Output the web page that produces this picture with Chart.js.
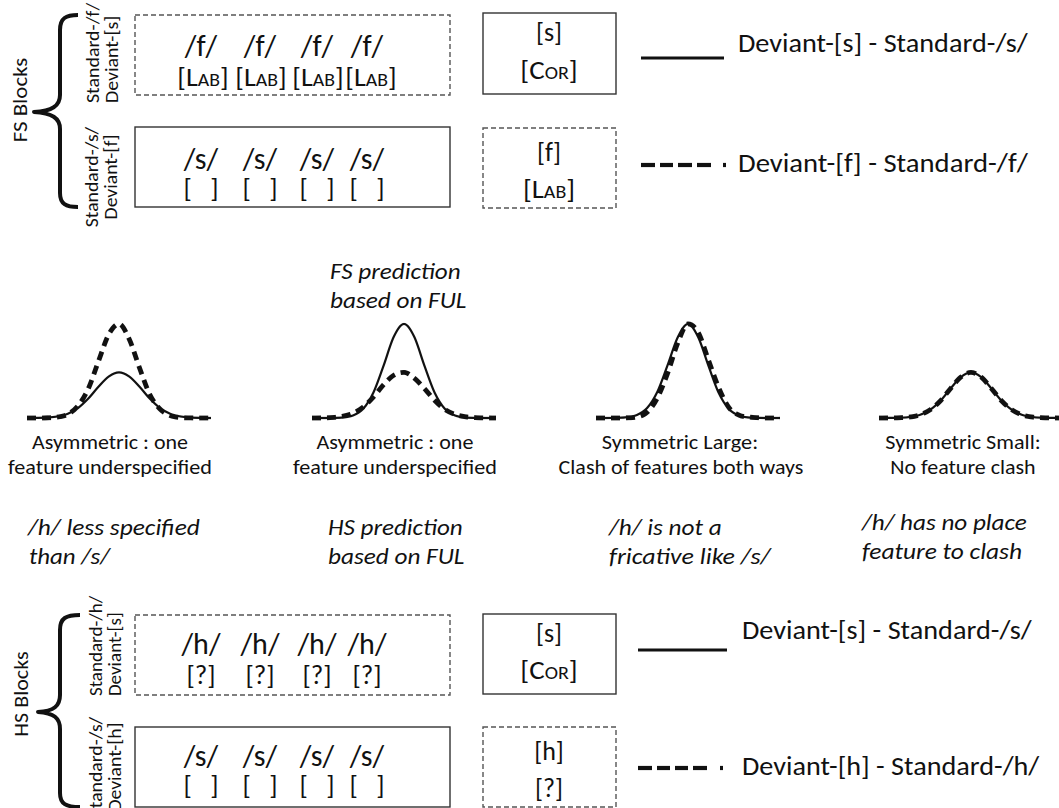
<!DOCTYPE html>
<html><head><meta charset="utf-8">
<script src="https://cdn.jsdelivr.net/npm/chart.js@4.4.1/dist/chart.umd.min.js"></script>
<style>
html,body{margin:0;padding:0;background:#fff;}
body{width:1059px;height:808px;overflow:hidden;position:relative;font-family:Carlito,Calibri,Lato,sans-serif;color:#111;}
.t{position:absolute;white-space:pre;line-height:0.9;}
.i{font-style:italic;}
.sc{font-variant:small-caps;}
canvas{position:absolute;}
svg{position:absolute;left:0;top:0;}
</style></head><body>
<svg width="1059" height="808" viewBox="0 0 1059 808">
  <g fill="none" stroke="#333" stroke-width="1.4">
    <rect x="135" y="15" width="315" height="80" stroke-dasharray="5 3" stroke="#555"/>
    <rect x="135" y="127" width="315" height="80"/>
    <rect x="483" y="13" width="133" height="81"/>
    <rect x="483" y="128" width="133" height="80" stroke-dasharray="5 3" stroke="#555"/>
    <rect x="135" y="615" width="315" height="80" stroke-dasharray="5 3" stroke="#555"/>
    <rect x="135" y="727" width="315" height="80"/>
    <rect x="483" y="614" width="133" height="80"/>
    <rect x="483" y="727" width="133" height="80" stroke-dasharray="5 3" stroke="#555"/>
  </g>
  <g fill="none" stroke="#111" stroke-width="4" stroke-linejoin="round">
    <path d="M78,15 C66,15 60,18 60,30 L60,95 C60,106 52,111 34,112 C52,113 60,118 60,129 L60,193 C60,204 66,207 78,207"/>
    <path transform="translate(0,600)" d="M80,15 C66,15 60,18 60,30 L60,95 C60,106 54,111 38,112 C54,113 60,118 60,129 L60,193 C60,204 66,207 80,207"/>
  </g>
  <g stroke="#111" stroke-width="3.2">
    <line x1="641" y1="58" x2="724" y2="58"/>
    <line x1="638" y1="650" x2="727" y2="650"/>
  </g>
  <g stroke="#111" stroke-width="4.2">
    <line x1="641" y1="165" x2="655" y2="165"/><line x1="660" y1="165" x2="673" y2="165"/>
    <line x1="678" y1="165" x2="692" y2="165"/><line x1="697" y1="165" x2="711" y2="165"/>
    <line x1="723" y1="165" x2="726" y2="165"/>
    <line x1="638" y1="768" x2="652" y2="768"/><line x1="657" y1="768" x2="670" y2="768"/>
    <line x1="675" y1="768" x2="688" y2="768"/><line x1="693" y1="768" x2="707" y2="768"/>
    <line x1="720" y1="768" x2="723" y2="768"/>
  </g>
</svg>
<script>
// ---- data: curve samples (relative response, 0-100) at shared x positions ----
const xPositions = [-9,-8,-7,-6,-5,-4,-3,-2,-1,0,1,2,3,4,5,6,7,8,9];
const panelTitles = ["Asymmetric : one\nfeature underspecified","Asymmetric : one\nfeature underspecified","Symmetric Large:\nClash of features both ways","Symmetric Small:\nNo feature clash"];
const seriesNames = ["Deviant-[s] - Standard-/s/","Deviant-[f] - Standard-/f/"];
const panel1Dashed = [0,0,0.2,1,4,13,31,60,88,99,83,53,25,9.5,2.6,0.5,0.1,0,0];
const panel1Solid  = [0,0.1,0.5,1.6,4.5,10.6,20.5,33,43.7,48,43.7,33,20.5,10.6,4.5,1.6,0.5,0.1,0];
const panel2Dashed = [0,0.1,0.5,1.8,5,11.5,22,35,45,48,42,31,18.5,9,3.8,1.3,0.4,0.1,0];
const panel2Solid  = [0,0,0.1,0.5,2.6,9.6,26.6,55,85.5,99,85.5,55,26.6,9.6,2.6,0.5,0.1,0,0];
const panel3Dashed = [0,0,0,0.2,1,6,21,47,79,99,90,61,32,11,3,1,0.2,0,0];
const panel3Solid  = [0,0,0.2,0.8,3.2,10.5,27.5,55.5,85,99,85,55,26.5,9.5,2.5,0.5,0.1,0,0];
const panel4Dashed = [0,0.1,0.3,1,3.3,8.6,18,31,43,48,43,31,18,8.6,3.3,1,0.3,0.1,0];
const panel4Solid  = [0,0.1,0.3,1,3.3,8.6,18,31,43,48,43,31,18,8.6,3.3,1,0.3,0.1,0];

// ---- layout (pixels) ----
const panelCenters = [119,404,688,971];
const PANEL_HALF = 92, AREA_TOP = 323, AREA_H = 95, PAD = 6;
const panelData = [[panel1Dashed,panel1Solid],[panel2Dashed,panel2Solid],[panel3Dashed,panel3Solid],[panel4Dashed,panel4Solid]];

panelData.forEach((pair,k)=>{
  const cv = document.createElement('canvas');
  cv.width = PANEL_HALF*2 + PAD*2; cv.height = AREA_H + PAD*2;
  cv.style.left = (panelCenters[k]-PANEL_HALF-PAD)+'px';
  cv.style.top = (AREA_TOP-PAD)+'px';
  document.body.appendChild(cv);
  const pts = arr => xPositions.map((x,i)=>({x:x,y:arr[i]}));
  new Chart(cv,{
    type:'line',
    data:{datasets:[
      {label:seriesNames[1],data:pts(pair[0]),borderColor:'#111',borderWidth:4.8,borderDash:[9,6],borderCapStyle:'butt',pointRadius:0,tension:0.4,cubicInterpolationMode:'monotone',clip:false},
      {label:seriesNames[0],data:pts(pair[1]),borderColor:'#111',borderWidth:2.2,pointRadius:0,tension:0.4,cubicInterpolationMode:'monotone',clip:false}
    ]},
    options:{responsive:false,animation:false,devicePixelRatio:2,
      layout:{padding:PAD},
      plugins:{legend:{display:false},tooltip:{enabled:false},title:{display:false}},
      scales:{x:{type:'linear',min:-9,max:9,display:false},y:{min:0,max:100,display:false}}}
  });
});

// ---- text ----
function put(txt,x,y,o){
  o=o||{};
  const d=document.createElement('div');
  d.className='t'+(o.cls?' '+o.cls:'');
  d.textContent=txt;
  d.style.left=x+'px'; d.style.top=y+'px';
  d.style.fontSize=(o.size||20)+'px';
  if(o.lh) d.style.lineHeight=o.lh;
  if(o.ta) d.style.textAlign=o.ta;
  const pre = o.rot ? 'translate(-50%,-50%) rotate(-90deg)' : (o.align==='l' ? 'translateY(-50%)' : 'translate(-50%,-50%)');
  if(o.align==='l') d.style.transformOrigin='left center';
  d.style.transform = pre;
  d.dataset.pre = pre;
  if(o.w) d.dataset.w=o.w;
  document.body.appendChild(d);
}
function fit(){
  document.querySelectorAll('[data-w]').forEach(d=>{
    const m=d.offsetWidth;
    if(m>0) d.style.transform = d.dataset.pre + ' scaleX(' + ((+d.dataset.w)/m).toFixed(4) + ')';
  });
}

// side labels
put('FS Blocks',20,100,{rot:1,w:85,size:21});
put('HS Blocks',21,694,{rot:1,w:85,size:21});
put('Standard-/f/\nDeviant-[s]',102,53,{rot:1,w:100,size:18.5,lh:'1.05',ta:'left'});
put('Standard-/s/\nDeviant-[f]',101,177,{rot:1,w:100,size:18.5,lh:'1.05',ta:'center'});
put('Standard-/h/\nDeviant-[s]',105,646,{rot:1,w:100,size:18.5,lh:'1.05',ta:'left'});
put('Standard-/s/\nDeviant-[h]',105,767,{rot:1,w:100,size:18.5,lh:'1.05',ta:'center'});

// block contents
const cols=[201,260,317,367];
const labCols=[203,261,318,371];
cols.forEach((cx,i)=>{
  put('/f/',cx,45,{size:30});
  put('[Lab]',labCols[i],77,{size:27,cls:'sc',w:51});
  put('/s/',cx,158,{size:30});
  put('[   ]',cx,188,{size:27});
  put('/h/',cx,643,{size:30});
  put('[?]',cx,675,{size:27});
  put('/s/',cx,755,{size:30});
  put('[   ]',cx,785,{size:27});
});
put('[s]',549,33,{size:26});
put('[Cor]',549,71,{size:26,cls:'sc',w:58});
put('[f]',549,153,{size:26});
put('[Lab]',549,190,{size:26,cls:'sc',w:52});
put('[s]',549,634,{size:26});
put('[Cor]',549,671,{size:26,cls:'sc',w:58});
put('[h]',549,752,{size:26});
put('[?]',549,789,{size:26});

// legends
put(seriesNames[0],738,44,{align:'l',w:290,size:26});
put(seriesNames[1],738,164,{align:'l',w:290,size:26});
put('Deviant-[s] - Standard-/s/',742,631,{align:'l',w:290,size:26});
put('Deviant-[h] - Standard-/h/',742,767,{align:'l',w:297,size:26});

// panel captions
const capW=[[156,204],[157,204],[156,245],[155,145]];
panelTitles.forEach((t,k)=>{
  const parts=t.split('\n');
  put(parts[0],panelCenters[k]-(k===2?8:(k===3?8:9)),442,{w:capW[k][0],size:20});
  put(parts[1],panelCenters[k]-(k===2?7:(k===3?8:9)),467,{w:capW[k][1],size:20});
});

// italic notes
put('FS prediction',330,271,{align:'l',cls:'i',w:131,size:23});
put('based on FUL',330,300,{align:'l',cls:'i',w:136,size:23});
put('/h/ less specified',28,527,{align:'l',cls:'i',w:172,size:23});
put('than /s/',29,556,{align:'l',cls:'i',w:81,size:23});
put('HS prediction',328,527,{align:'l',cls:'i',w:135,size:23});
put('based on FUL',328,556,{align:'l',cls:'i',w:136,size:23});
put('/h/ is not a',609,527,{align:'l',cls:'i',w:113,size:23});
put('fricative like /s/',609,556,{align:'l',cls:'i',w:162,size:23});
put('/h/ has no place',862,522,{align:'l',cls:'i',w:165,size:23});
put('feature to clash',862,551,{align:'l',cls:'i',w:160,size:23});

fit();
if(document.fonts&&document.fonts.ready) document.fonts.ready.then(fit);
</script>
</body></html>
